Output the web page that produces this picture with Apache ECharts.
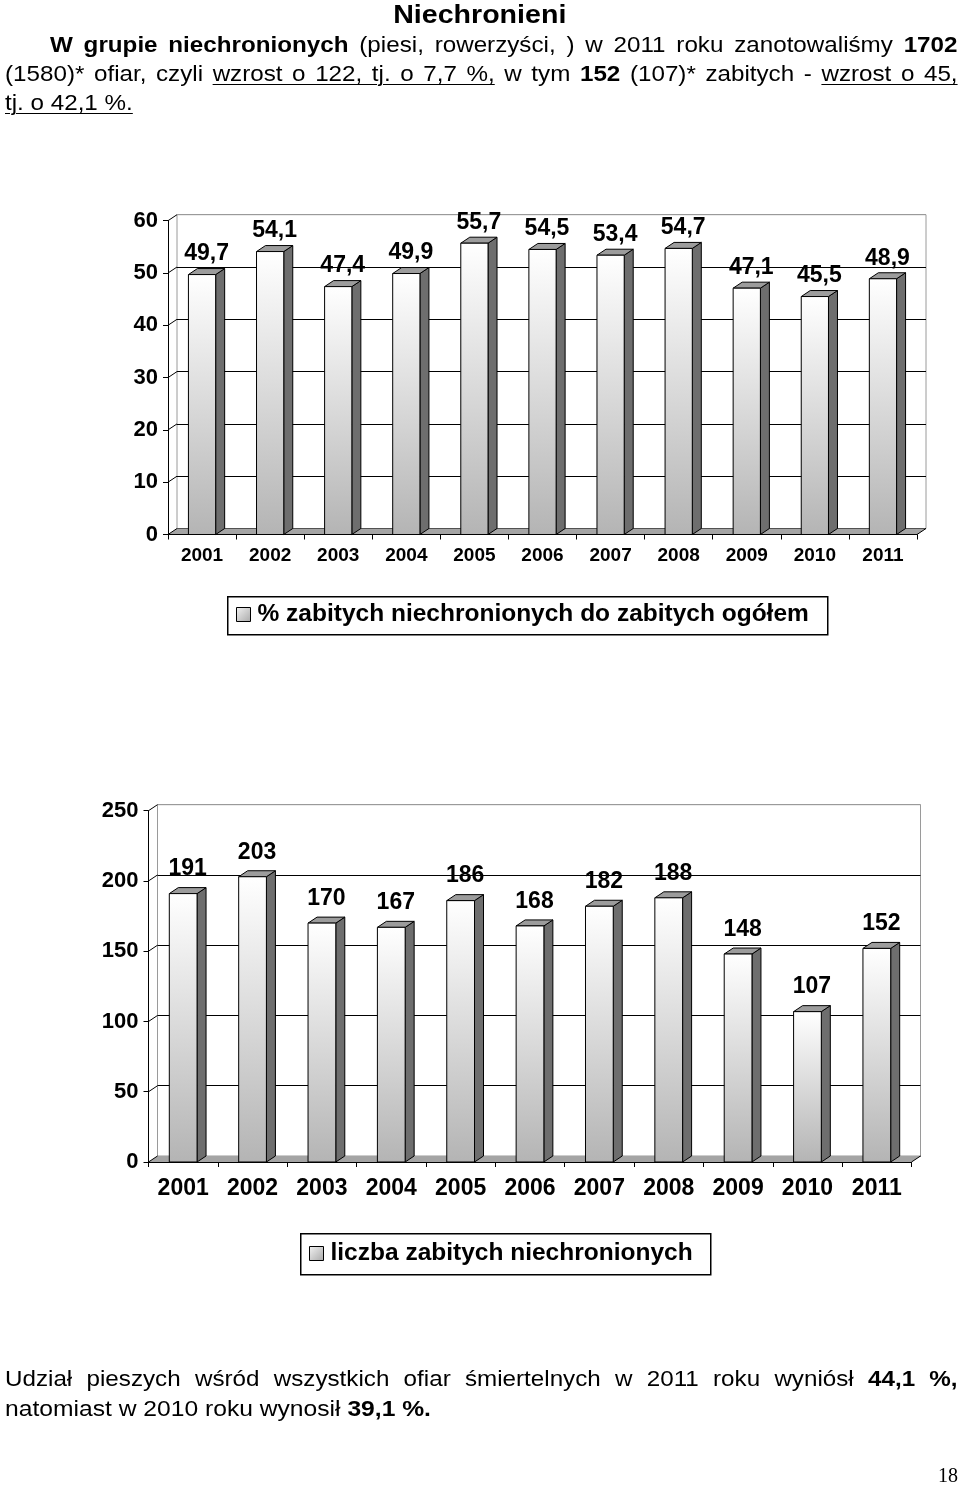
<!DOCTYPE html>
<html><head><meta charset="utf-8">
<script src="https://cdn.jsdelivr.net/npm/echarts@6/dist/echarts.min.js"></script>
<style>
html,body{margin:0;padding:0;background:#fff;}
body{width:960px;height:1486px;position:relative;overflow:hidden;font-family:"Liberation Sans",Arial,sans-serif;color:#000;}
#chart{position:absolute;left:0;top:0;width:960px;height:1486px;}
.t{position:absolute;white-space:nowrap;transform-origin:left top;}
.s{transform:scaleX(1.1);}
.s2{transform:scaleX(1.12);}
.j{position:absolute;font-size:22px;line-height:29px;height:29px;text-align:justify;text-align-last:justify;white-space:normal;overflow:visible;transform:scaleX(1.1);transform-origin:left top;}
u{text-decoration-thickness:1px;text-underline-offset:3px;}
</style></head>
<body>
<div id="chart"></div>
<div class="t" style="left:0;width:960px;top:-1px;text-align:center;font-size:26px;line-height:30px;font-weight:bold;"><span style="display:inline-block;transform:scaleX(1.1);">Niechronieni</span></div>
<div class="j" style="left:50px;width:825px;top:30px;"><b>W grupie niechronionych</b> (piesi, rowerzyści, ) w 2011 roku zanotowaliśmy <b>1702</b></div>
<div class="j" style="left:5px;width:866px;top:59px;">(1580)* ofiar, czyli <u>wzrost o 122, tj. o 7,7 %,</u> w tym <b>152</b> (107)* zabitych - <u>wzrost o 45,</u></div>
<div class="t s" style="left:5px;top:88px;font-size:22px;line-height:29px;"><u>tj. o 42,1 %.</u></div>
<div class="j" style="left:5px;width:866px;top:1364px;">Udział pieszych wśród wszystkich ofiar śmiertelnych w 2011 roku wyniósł <b>44,1 %,</b></div>
<div class="t s2" style="left:5px;top:1394px;font-size:22px;line-height:29px;">natomiast w 2010 roku wynosił <b>39,1 %.</b></div>
<div class="t" style="right:2px;top:1465px;font-family:'Liberation Serif','Times New Roman',serif;font-size:20px;line-height:20px;">18</div>
<script>
// ---- data ----
const years = ['2001','2002','2003','2004','2005','2006','2007','2008','2009','2010','2011'];
const pctKilled = [49.7,54.1,47.4,49.9,55.7,54.5,53.4,54.7,47.1,45.5,48.9];
const numKilled = [191,203,170,167,186,168,182,188,148,107,152];
const pctTicks = [0,10,20,30,40,50,60];
const numTicks = [0,50,100,150,200,250];
const legendPct = '% zabitych niechronionych do zabitych ogółem';
const legendNum = 'liczba zabitych niechronionych';

// ---- style ----
const DX = 9, DY = 6;
const FONT = "'Liberation Sans', Arial, sans-serif";
const frontGrad = {type:'linear',x:0,y:0,x2:0,y2:1,colorStops:[{offset:0,color:'#ffffff'},{offset:1,color:'#b4b4b4'}]};
const legendGrad = {type:'linear',x:0,y:0,x2:1,y2:1,colorStops:[{offset:0,color:'#f4f4f4'},{offset:1,color:'#a8a8a8'}]};
const fmt = v => String(v).replace('.', ',');

const chart = echarts.init(document.getElementById('chart'), null, {renderer:'canvas'});

function barRender(gap, font){
  return function(params, api){
    const idx = api.value(0), v = api.value(1);
    const top = api.coord([idx, v]);
    const base = api.coord([idx, 0]);
    const bw = api.size([1,0])[0]*0.40;
    const xl = top[0]-bw/2, xr = top[0]+bw/2, yt = top[1], yb = base[1];
    return {type:'group', children:[
      {type:'polygon', shape:{points:[[xr,yt],[xr+DX,yt-DY],[xr+DX,yb-DY],[xr,yb]]}, style:{fill:'#6e6e6e', stroke:'#000', lineWidth:1}},
      {type:'polygon', shape:{points:[[xl,yt],[xl+DX,yt-DY],[xr+DX,yt-DY],[xr,yt]]}, style:{fill:'#9c9c9c', stroke:'#000', lineWidth:1}},
      {type:'rect', shape:{x:xl,y:yt,width:bw,height:yb-yt}, style:{fill:frontGrad, stroke:'#000', lineWidth:1}},
      {type:'text', x:(xl+xr+DX)/2, y:yt-DY-gap, style:{text:fmt(v), font:font, align:'center', verticalAlign:'bottom', fill:'#000'}}
    ]};
  };
}
function floorRender(params, api){
  const c = params.coordSys;
  const yb = c.y + c.height, xl = c.x, xr = c.x + c.width;
  return {type:'group', children:[
    {type:'polygon', shape:{points:[[xl,yb],[xr,yb],[xr+DX,yb-DY],[xl+DX,yb-DY]]}, style:{fill:'#a4a4a4', stroke:null}},
    {type:'line', shape:{x1:xr,y1:yb,x2:xr+DX,y2:yb-DY}, style:{stroke:'#000', lineWidth:1}}
  ]};
}
function connRender(params, api){
  const c = params.coordSys;
  const y = api.coord([0, api.value(0)])[1];
  return {type:'line', shape:{x1:c.x,y1:y,x2:c.x+DX,y2:y-DY}, style:{stroke:'#000', lineWidth:1}};
}

const g1 = {left:168, top:220.7, width:749, height:313.8};
const g2 = {left:148.5, top:810.7, width:763, height:351.3};
function back(g){ return {left:g.left+DX, top:g.top-DY, width:g.width, height:g.height, show:true, borderColor:'#9a9a9a', borderWidth:1, backgroundColor:'transparent'}; }
function front(g){ return {left:g.left, top:g.top, width:g.width, height:g.height}; }

const hiddenX = (gi)=>({type:'category', gridIndex:gi, data:years, show:true, axisLine:{show:false}, axisTick:{show:false}, axisLabel:{show:false}, splitLine:{show:false}});
const backY = (gi, max, interval, n)=>({type:'value', gridIndex:gi, min:0, max:max, interval:interval, axisLine:{show:false}, axisTick:{show:false}, axisLabel:{show:false},
  splitLine:{show:true, lineStyle:{color:Array(n-1).fill('#000').concat(['#9a9a9a']), width:1}}});
const frontX = (gi, fs, margin)=>({type:'category', gridIndex:gi, data:years, z:5, axisLine:{show:true, lineStyle:{color:'#000', width:1}},
  axisTick:{show:true, interval:0, length:5, lineStyle:{color:'#000'}}, axisLabel:{interval:0, margin:margin, color:'#000', fontFamily:FONT, fontWeight:'bold', fontSize:fs}, splitLine:{show:false}});
const frontY = (gi, max, interval, fs, margin)=>({type:'value', gridIndex:gi, min:0, max:max, interval:interval, z:5, axisLine:{show:true, lineStyle:{color:'#000', width:1}},
  axisTick:{show:true, length:5, lineStyle:{color:'#000'}}, axisLabel:{margin:margin, color:'#000', fontFamily:FONT, fontWeight:'bold', fontSize:fs}, splitLine:{show:false}});

const legendText = {fontFamily:FONT, fontWeight:'bold', fontSize:24.5, color:'#000', padding:[0,0,0,2]};
const option = {
  animation:false,
  backgroundColor:'transparent',
  grid:[back(g1), front(g1), back(g2), front(g2)],
  xAxis:[hiddenX(0), frontX(1, 19, 12), hiddenX(2), frontX(3, 23, 15)],
  yAxis:[backY(0, 60, 10, pctTicks.length), frontY(1, 60, 10, 22, 10), backY(2, 250, 50, numTicks.length), frontY(3, 250, 50, 22, 10)],
  legend:[
    {data:[legendPct], left:236, top:602, padding:0, itemWidth:14, itemHeight:14, icon:'rect', selectedMode:false,
     itemStyle:{color:legendGrad, borderColor:'#000', borderWidth:1}, textStyle:legendText},
    {data:[legendNum], left:309, top:1241, padding:0, itemWidth:14, itemHeight:14, icon:'rect', selectedMode:false,
     itemStyle:{color:legendGrad, borderColor:'#000', borderWidth:1}, textStyle:legendText}
  ],
  graphic:[
    {type:'rect', left:227, top:596, z:0, shape:{width:600, height:38}, style:{fill:'#fff', stroke:'#000', lineWidth:1.5}},
    {type:'rect', left:300, top:1233, z:0, shape:{width:410, height:41}, style:{fill:'#fff', stroke:'#000', lineWidth:1.5}}
  ],
  series:[
    {type:'custom', name:'floor1', xAxisIndex:1, yAxisIndex:1, z:1, silent:true, data:[0], renderItem:floorRender},
    {type:'custom', name:'conn1', xAxisIndex:1, yAxisIndex:1, z:1, silent:true, data:pctTicks, encode:{y:0}, renderItem:connRender},
    {type:'custom', name:legendPct, xAxisIndex:1, yAxisIndex:1, z:3, itemStyle:{color:legendGrad},
     data:years.map((y,i)=>[i, pctKilled[i]]), encode:{x:0, y:1}, renderItem:barRender(3, "bold 23px 'Liberation Sans', Arial, sans-serif")},
    {type:'custom', name:'floor2', xAxisIndex:3, yAxisIndex:3, z:1, silent:true, data:[0], renderItem:floorRender},
    {type:'custom', name:'conn2', xAxisIndex:3, yAxisIndex:3, z:1, silent:true, data:numTicks, encode:{y:0}, renderItem:connRender},
    {type:'custom', name:legendNum, xAxisIndex:3, yAxisIndex:3, z:3, itemStyle:{color:legendGrad},
     data:years.map((y,i)=>[i, numKilled[i]]), encode:{x:0, y:1}, renderItem:barRender(7, "bold 23px 'Liberation Sans', Arial, sans-serif")}
  ]
};
chart.setOption(option);
</script>
</body></html>
